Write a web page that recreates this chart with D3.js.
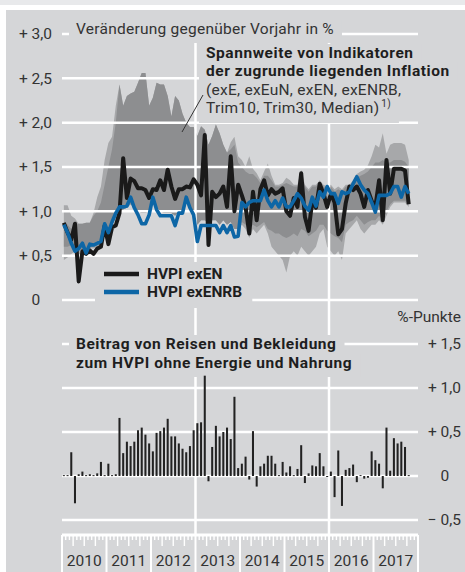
<!DOCTYPE html>
<html>
<head>
<meta charset="utf-8">
<script src="https://d3js.org/d3.v7.min.js"></script>
<style>
  body { margin: 0; background: #fff; }
  svg text { font-family: Roboto, "Open Sans", sans-serif; }
</style>
</head>
<body>
<div id="chart"></div>
<script>
// monthly values, Jan 2010 .. Oct 2017
const years = ["2010", "2011", "2012", "2013", "2014", "2015", "2016", "2017"];

const hvpiExEN = [
  0.87, 0.76, 0.68, 0.86, 0.21, 0.55, 0.52, 0.56, 0.52, 0.58, 0.60, 0.84,
  0.63, 0.82, 0.84, 0.98, 1.60, 1.15, 1.37, 1.34, 1.26, 1.26, 1.24, 1.15,
  1.25, 1.24, 1.35, 1.24, 1.47, 1.28, 1.14, 1.25, 1.25, 1.28, 1.27, 1.36,
  1.30, 1.18, 1.86, 0.62, 1.22, 1.16, 1.20, 1.28, 1.05, 1.62, 1.00, 1.30,
  1.18, 1.05, 0.75, 1.22, 0.90, 1.25, 1.35, 1.18, 1.25, 1.20, 1.22, 1.26,
  1.00, 0.95, 1.15, 1.05, 1.43, 0.94, 0.78, 1.12, 1.04, 1.31, 1.20, 1.05,
  1.20, 1.10, 0.74, 0.80, 1.09, 1.28, 1.24, 1.28, 1.20, 1.05, 1.24, 1.12,
  1.05, 1.35, 0.90, 1.58, 1.20, 1.48, 1.48, 1.48, 1.46, 1.08
];

const hvpiExENRB = [
  0.85, 0.76, 0.64, 0.55, 0.58, 0.64, 0.53, 0.63, 0.62, 0.64, 0.66, 0.86,
  0.76, 0.88, 0.98, 1.05, 1.05, 1.06, 1.16, 1.04, 0.96, 0.86, 0.86, 0.96,
  1.16, 1.02, 0.95, 0.95, 0.95, 0.95, 0.84, 0.98, 0.98, 1.16, 1.04, 0.96,
  0.66, 0.84, 0.84, 0.84, 0.84, 0.84, 0.76, 0.84, 0.76, 0.84, 0.71, 0.72,
  1.10, 1.05, 1.10, 1.12, 1.12, 1.12, 1.24, 1.12, 1.05, 1.12, 1.05, 1.15,
  1.05, 1.05, 1.12, 1.20, 1.15, 1.06, 1.01, 1.16, 1.06, 1.22, 1.16, 1.28,
  1.20, 1.20, 1.09, 1.22, 1.20, 1.22, 1.31, 1.39, 1.30, 1.24, 1.20, 1.10,
  0.99, 1.18, 1.18, 1.18, 1.20, 1.28, 1.28, 1.16, 1.28, 1.20
];

// range of core inflation indicators: full range (light) and inner range (dark)
const rangeMax = [
  1.07, 1.07, 0.95, 0.92, 0.86, 0.86, 0.87, 0.87, 0.98, 1.16, 1.28, 1.58,
  1.77, 1.84, 2.19, 2.43, 2.19, 2.30, 2.33, 2.35, 2.45, 2.56, 2.56, 2.19,
  2.28, 2.45, 2.43, 2.43, 2.30, 2.07, 2.30, 2.25, 2.10, 2.00, 1.95, 1.95,
  1.85, 1.96, 1.92, 1.75, 1.85, 1.98, 1.88, 1.75, 1.66, 1.78, 1.84, 1.62,
  1.58, 1.50, 1.62, 1.48, 1.43, 1.35, 1.45, 1.54, 1.40, 1.30, 1.30, 1.32,
  1.38, 1.35, 1.30, 1.30, 1.47, 1.30, 1.25, 1.30, 1.30, 1.35, 1.30, 1.28,
  1.30, 1.25, 1.28, 1.25, 1.30, 1.30, 1.35, 1.42, 1.45, 1.47, 1.52, 1.62,
  1.75, 1.72, 1.88, 1.65, 1.75, 1.77, 1.77, 1.77, 1.75, 1.58
];
const rangeMin = [
  0.45, 0.48, 0.52, 0.55, 0.50, 0.55, 0.55, 0.58, 0.58, 0.60, 0.62, 0.78,
  0.72, 0.85, 0.92, 1.00, 1.02, 1.04, 1.08, 1.04, 1.00, 0.98, 0.98, 1.00,
  1.10, 1.05, 1.00, 0.98, 0.98, 0.98, 0.95, 1.00, 1.00, 1.10, 1.05, 1.00,
  0.85, 0.90, 0.90, 0.88, 0.90, 0.90, 0.85, 0.90, 0.85, 0.88, 0.80, 0.80,
  0.85, 0.80, 0.70, 0.80, 0.75, 0.80, 0.85, 0.75, 0.60, 0.55, 0.50, 0.45,
  0.31, 0.50, 0.55, 0.50, 0.60, 0.55, 0.50, 0.55, 0.60, 0.75, 0.80, 0.60,
  0.55, 0.50, 0.55, 0.45, 0.75, 0.80, 0.85, 0.90, 0.80, 0.75, 0.80, 0.85,
  0.85, 0.90, 0.85, 0.95, 1.05, 1.10, 1.10, 1.10, 1.10, 1.05
];
const innerMax = [
  0.88, 0.85, 0.80, 0.85, 0.86, 0.86, 0.87, 0.87, 0.95, 1.00, 1.10, 1.30,
  1.50, 1.70, 2.00, 2.43, 2.19, 2.30, 2.33, 2.35, 2.45, 2.56, 2.56, 2.19,
  2.28, 2.45, 2.43, 2.43, 2.30, 2.07, 2.30, 2.25, 2.10, 2.00, 1.95, 1.95,
  1.85, 1.96, 1.92, 1.75, 1.85, 1.98, 1.88, 1.75, 1.66, 1.70, 1.75, 1.55,
  1.50, 1.45, 1.42, 1.42, 1.38, 1.32, 1.40, 1.40, 1.35, 1.28, 1.28, 1.30,
  1.32, 1.30, 1.28, 1.28, 1.40, 1.28, 1.22, 1.28, 1.28, 1.32, 1.28, 1.25,
  1.28, 1.22, 1.25, 1.22, 1.28, 1.28, 1.32, 1.38, 1.40, 1.42, 1.45, 1.50,
  1.55, 1.55, 1.58, 1.55, 1.55, 1.58, 1.58, 1.58, 1.56, 1.50
];
const innerMin = [
  0.60, 0.60, 0.62, 0.62, 0.55, 0.58, 0.58, 0.60, 0.60, 0.62, 0.64, 0.80,
  0.74, 0.86, 0.94, 1.00, 1.02, 1.04, 1.08, 1.04, 1.00, 0.98, 0.98, 1.00,
  1.10, 1.05, 1.00, 0.98, 0.98, 0.98, 0.95, 1.00, 1.00, 1.10, 1.05, 1.00,
  0.85, 0.90, 0.90, 0.88, 0.90, 0.90, 0.85, 0.90, 0.85, 0.88, 0.80, 0.80,
  0.88, 0.85, 0.80, 0.85, 0.82, 0.85, 0.88, 0.80, 0.78, 0.75, 0.75, 0.72,
  0.70, 0.72, 0.75, 0.72, 0.80, 0.78, 0.72, 0.75, 0.78, 0.85, 0.85, 0.78,
  0.75, 0.72, 0.70, 0.65, 0.85, 0.88, 0.90, 0.95, 0.90, 0.85, 0.88, 0.90,
  0.90, 0.95, 0.90, 1.00, 1.08, 1.12, 1.12, 1.12, 1.12, 1.08
];

// contribution of travel and clothing, percentage points
const contribution = [
  0.01, 0.01, 0.27, -0.31, 0.02, 0.05, 0.01, 0.02, 0.01, 0.03, 0.16, 0.01,
  0.14, 0.01, 0.02, 0.66, 0.26, 0.39, 0.34, 0.39, 0.52, 0.55, 0.47, 0.37,
  0.28, 0.49, 0.51, 0.55, 0.65, 0.45, 0.45, 0.37, 0.31, 0.27, 0.34, 0.52,
  0.60, 0.61, 1.14, -0.06, 0.33, 0.57, 0.45, 0.50, 0.55, 0.42, 0.90, 0.09,
  0.14, 0.22, -0.04, 0.51, -0.12, 0.11, 0.14, 0.23, 0.23, 0.14, 0.01, 0.16,
  0.04, 0.11, 0.01, 0.08, 0.35, -0.08, 0.03, 0.12, 0.11, 0.26, 0.11, -0.01,
  0.05, -0.24, 0.29, -0.34, 0.07, 0.09, 0.13, -0.07, 0.01, -0.03, -0.02, 0.28,
  0.18, 0.14, -0.14, 0.55, 0.06, 0.43, 0.37, 0.39, 0.33, 0.01
];

const topTicks = [0, 0.5, 1, 1.5, 2, 2.5, 3];
const topTickLabels = ["0", "+ 0,5", "+ 1,0", "+ 1,5", "+ 2,0", "+ 2,5", "+ 3,0"];
const bottomTicks = [-0.5, 0, 0.5, 1, 1.5];
const bottomTickLabels = ["\u2212 0,5", "0", "+ 0,5", "+ 1,0", "+ 1,5"];

const width = 465, height = 572;
const panel = "#d5d6d8";
const white = "#ffffff";
const fs = 15.5;

const svg = d3.select("#chart")
  .append("svg")
    .attr("width", width)
    .attr("height", height);

svg.append("rect").attr("width", width).attr("height", 5).attr("fill", "#e8e9eb");
svg.append("rect").attr("x", 6).attr("y", 10)
  .attr("width", width - 6).attr("height", height - 10).attr("fill", panel);

// scales
const nMonths = years.length * 12;
const x = d3.scaleBand()
  .domain(d3.range(nMonths))
  .range([62, 418])
  .paddingInner(0.45)
  .paddingOuter(0.225);
const xc = i => x(i) + x.bandwidth() / 2;
const step = x.step();
const xEdge = i => 62 + i * step;   // month boundary
const xYear = d3.scaleBand().domain(years).range([62, 418]);

const yTop = d3.scaleLinear().domain([0, 3]).range([300, 34]);
const yBot = d3.scaleLinear().domain([-0.5, 1.5]).range([520, 344]);

// range bands
const months = d3.range(hvpiExEN.length);
const band = (hi, lo) => d3.area()
  .x(i => xc(i))
  .y0(i => yTop(lo[i]))
  .y1(i => yTop(hi[i]));

svg.append("path").datum(months)
  .attr("d", band(rangeMax, rangeMin))
  .attr("fill", "#a7a8aa");
svg.append("path").datum(months)
  .attr("d", band(innerMax, innerMin))
  .attr("fill", "#8d8e90");

// gridlines
svg.append("g").selectAll("line")
  .data(topTicks)
  .join("line")
    .attr("x1", 62).attr("x2", 418)
    .attr("y1", d => yTop(d)).attr("y2", d => yTop(d))
    .attr("stroke", white).attr("stroke-width", 2.5);
svg.append("g").selectAll("line")
  .data(bottomTicks)
  .join("line")
    .attr("x1", 62).attr("x2", 418)
    .attr("y1", d => yBot(d)).attr("y2", d => yBot(d))
    .attr("stroke", white).attr("stroke-width", 2.5);

// vertical separators at 2013 and 2016
svg.append("g").selectAll("line")
  .data(["2013", "2016"])
  .join("line")
    .attr("x1", d => xYear(d)).attr("x2", d => xYear(d))
    .attr("y1", 43).attr("y2", 536)
    .attr("stroke", white).attr("stroke-width", 2.5);

// month axis comb
svg.append("rect").attr("x", 62).attr("y", 533.5)
  .attr("width", 356).attr("height", 3).attr("fill", white);
svg.append("g").selectAll("line")
  .data(d3.range(nMonths + 1))
  .join("line")
    .attr("x1", d => xEdge(d)).attr("x2", d => xEdge(d))
    .attr("y1", 535)
    .attr("y2", d => d % 12 === 0 ? 572 : (d % 3 === 0 ? 546 : 540))
    .attr("stroke", white)
    .attr("stroke-width", d => d % 12 === 0 ? 2 : 1.4);
svg.append("g").selectAll("text")
  .data(years)
  .join("text")
    .attr("x", d => xYear(d) + xYear.bandwidth() / 2)
    .attr("y", 566)
    .attr("text-anchor", "middle")
    .attr("font-size", fs)
    .attr("fill", "#333")
    .text(d => d);

// text with a panel-coloured box behind each line, hiding the grid
const labels = svg.append("g");
function maskedLine(px, py, str, bold, extra) {
  const g = labels.append("g");
  const r = g.append("rect").attr("fill", panel);
  const t = g.append("text")
    .attr("x", px).attr("y", py)
    .attr("font-size", fs)
    .attr("font-weight", bold ? 700 : 400)
    .attr("letter-spacing", bold ? 0.55 : 0.25)
    .attr("fill", bold ? "#1e1e1e" : "#333")
    .text(str);
  if (extra) extra(t);
  const b = t.node().getBBox();
  r.attr("x", b.x - 7).attr("y", py - 14).attr("width", b.width + 15).attr("height", 19);
  return g;
}

maskedLine(76, 34, "Veränderung gegenüber Vorjahr in %", false);
maskedLine(206, 58, "Spannweite von Indikatoren", true);
maskedLine(206, 76, "der zugrunde liegenden Inflation", true);
maskedLine(206, 95, "(exE, exEuN, exEN, exENRB,", false);
maskedLine(206, 113, "Trim10, Trim30, Median)", false, t => {
  t.append("tspan").attr("font-size", 10).attr("dx", 2).attr("dy", -6).text("1)");
}).select("rect").attr("height", 24);

maskedLine(76, 349, "Beitrag von Reisen und Bekleidung", true);
maskedLine(76, 368, "zum HVPI ohne Energie und Nahrung", true)
  .select("rect").attr("height", 23);

// leader line to the range band
svg.append("line")
  .attr("x1", 182).attr("y1", 132).attr("x2", 203).attr("y2", 95)
  .attr("stroke", "#333").attr("stroke-width", 1);

// axis labels, aligned on the decimal comma
const commaW = (() => {
  const t = svg.append("text").attr("font-size", fs).text(",5");
  const w = t.node().getComputedTextLength();
  t.remove();
  return w;
})();
svg.append("g").selectAll("text")
  .data(topTicks)
  .join("text")
    .attr("x", (d, i) => topTickLabels[i] === "0" ? 52 - commaW : 52)
    .attr("y", d => yTop(d))
    .attr("dy", "0.35em")
    .attr("text-anchor", "end")
    .attr("font-size", fs)
    .attr("fill", "#333")
    .text((d, i) => topTickLabels[i]);
svg.append("g").selectAll("text")
  .data(bottomTicks)
  .join("text")
    .attr("x", (d, i) => bottomTickLabels[i] === "0" ? 461 - commaW : 461)
    .attr("y", d => yBot(d))
    .attr("dy", "0.35em")
    .attr("text-anchor", "end")
    .attr("font-size", fs)
    .attr("fill", "#333")
    .text((d, i) => bottomTickLabels[i]);
svg.append("text")
  .attr("x", 461).attr("y", 322)
  .attr("text-anchor", "end")
  .attr("font-size", fs)
  .attr("fill", "#333")
  .text("%-Punkte");

// bars
svg.append("g").selectAll("rect")
  .data(contribution)
  .join("rect")
    .attr("x", (d, i) => x(i))
    .attr("y", d => yBot(Math.max(0, d)))
    .attr("width", x.bandwidth())
    .attr("height", d => Math.max(1, Math.abs(yBot(d) - yBot(0))))
    .attr("fill", "#222");

// lines
const line = vals => d3.line().x(i => xc(i)).y(i => yTop(vals[i]));
svg.append("path").datum(months)
  .attr("d", line(hvpiExEN))
  .attr("fill", "none").attr("stroke", "#1a1a1a")
  .attr("stroke-width", 4).attr("stroke-linejoin", "round");
svg.append("path").datum(months)
  .attr("d", line(hvpiExENRB))
  .attr("fill", "none").attr("stroke", "#0d66a6")
  .attr("stroke-width", 3.6).attr("stroke-linejoin", "round");

// legend
const legendItems = [["HVPI exEN", "#1a1a1a"], ["HVPI exENRB", "#0d66a6"]];
const legend = svg.append("g");
const legendBox = legend.append("rect").attr("fill", panel);
legendItems.forEach(([name, color], k) => {
  const ly = 274 + k * 18;
  legend.append("line")
    .attr("x1", 104).attr("x2", 139).attr("y1", ly).attr("y2", ly)
    .attr("stroke", color).attr("stroke-width", 4.5);
  legend.append("text")
    .attr("x", 147).attr("y", ly).attr("dy", "0.35em")
    .attr("font-size", fs).attr("font-weight", 700)
    .attr("fill", "#1e1e1e")
    .text(name);
});
const lb = legend.node().getBBox();
legendBox.attr("x", lb.x - 9).attr("y", 262)
  .attr("width", lb.width + 19).attr("height", 46);
</script>
</body>
</html>
